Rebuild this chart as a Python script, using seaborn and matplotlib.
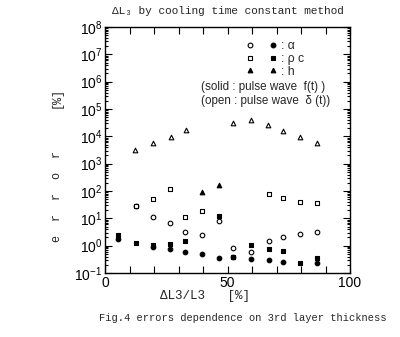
import numpy as np
import pandas as pd
import matplotlib
matplotlib.use("Agg")
import matplotlib.pyplot as plt
from matplotlib.legend_handler import HandlerTuple
from matplotlib.lines import Line2D
import seaborn as sns

# ---- data ----
alpha_open_x = [12.5, 19.5, 26.5, 32.7, 39.7, 46.5, 52.4, 59.6, 66.9, 72.5, 79.6, 86.7]
alpha_open_y = [28, 11.5, 6.6, 3.2, 2.5, 8.0, 0.8, 0.6, 1.5, 2.1, 2.7, 3.2]

alpha_solid_x = [5.4, 19.5, 26.5, 32.7, 39.7, 46.5, 52.4, 59.6, 66.9, 72.5, 86.7]
alpha_solid_y = [1.8, 0.9, 0.74, 0.6, 0.5, 0.35, 0.38, 0.32, 0.3, 0.26, 0.23]

rho_open_x = [12.5, 19.5, 26.5, 32.7, 39.7, 66.9, 72.5, 79.6, 86.7]
rho_open_y = [28, 50, 118, 11.5, 19, 78, 55, 41, 35]

rho_solid_x = [5.4, 12.5, 19.5, 26.5, 32.7, 46.5, 52.4, 59.6, 66.9, 72.5, 79.6, 86.7]
rho_solid_y = [2.5, 1.3, 1.1, 1.15, 1.5, 12, 0.38, 1.07, 0.76, 0.66, 0.24, 0.35]

h_open_x = [12.2, 19.7, 26.8, 32.9, 52.4, 59.6, 66.7, 72.5, 79.6, 86.7]
h_open_y = [3.2e3, 5.9e3, 9.8e3, 1.7e4, 3.0e4, 3.8e4, 2.5e4, 1.6e4, 9.8e3, 5.9e3]

h_solid_x = [39.7, 46.5]
h_solid_y = [90, 165]

x_ticks = [0, 10, 20, 30, 40, 50, 60, 70, 80, 90, 100]
x_ticklabels = ["0", "", "", "", "", "50", "", "", "", "", "100"]

title_text = "ΔL₃ by cooling time constant method"
xlabel_text = "ΔL3/L3   [%]"
caption_text = "Fig.4 errors dependence on 3rd layer thickness"

sns.set_style("ticks")
plt.rcParams['font.family'] = ['Liberation Sans', 'DejaVu Sans']
plt.rcParams['mathtext.default'] = 'regular'

fig = plt.figure(figsize=(4.0, 3.37), dpi=100)
ax = fig.add_axes([105/400, 1-273/337, 245/400, 246/337])

series = [
    (alpha_open_x, alpha_open_y, 'o', 'white'),
    (alpha_solid_x, alpha_solid_y, 'o', 'black'),
    (rho_open_x, rho_open_y, 's', 'white'),
    (rho_solid_x, rho_solid_y, 's', 'black'),
    (h_open_x, h_open_y, '^', 'white'),
    (h_solid_x, h_solid_y, '^', 'black'),
]
for xs, ys, m, fc in series:
    df = pd.DataFrame({'x': xs, 'y': ys})
    sns.scatterplot(data=df, x='x', y='y', marker=m, s=11, color=fc,
                    edgecolor='black', linewidth=0.8, ax=ax, zorder=3)

ax.set_yscale('log')
ax.set_xlim(0, 100)
ax.set_ylim(1e-1, 1e8)
ax.set_xticks(x_ticks)
ax.set_xticklabels(x_ticklabels)
ax.set_xlabel("")
ax.set_ylabel("")
ax.tick_params(axis='both', which='both', direction='in', top=True, right=True,
               labelsize=10, colors='black', width=0.8)
ax.tick_params(axis='both', which='major', length=5, pad=2)
ax.tick_params(axis='y', which='minor', length=2.5)
ax.yaxis.set_major_locator(matplotlib.ticker.LogLocator(base=10, numticks=20))
ax.yaxis.set_minor_locator(matplotlib.ticker.LogLocator(base=10, subs=np.arange(2, 10), numticks=20))
for sp in ax.spines.values():
    sp.set_linewidth(1.0)
    sp.set_color('black')

# legend with paired (open, solid) markers
def mk(m, fc):
    return Line2D([], [], marker=m, linestyle='none', markersize=3.4,
                  markerfacecolor=fc, markeredgecolor='black', markeredgewidth=0.8)
handles = [(mk('o', 'white'), mk('o', 'black')),
           (mk('s', 'white'), mk('s', 'black')),
           (mk('^', 'black'), mk('^', 'black'))]
labels = [': α', ': ρ c', ': h']
leg = ax.legend(handles=handles, labels=labels,
                handler_map={tuple: HandlerTuple(ndivide=None, pad=1.2)},
                loc='upper left', bbox_to_anchor=(0.55, 0.97), frameon=False,
                fontsize=8.8, handlelength=2.6, handletextpad=0.3, labelspacing=0.05,
                borderpad=0.0)

ax.text(0.392, 0.756, "(solid : pulse wave  f(t) )", transform=ax.transAxes,
        fontsize=8.4, va='center', ha='left')
ax.text(0.392, 0.700, "(open : pulse wave  δ (t))", transform=ax.transAxes,
        fontsize=8.4, va='center', ha='left')

mono = ['Liberation Mono', 'DejaVu Sans Mono']
fig.text(228/400, 1-11/337, title_text, family=mono, fontsize=8.0, ha='center', va='center')
fig.text(205/400, 1-296/337, xlabel_text, family=mono, fontsize=9, ha='center', va='center')
fig.text(243/400, 1-318/337, caption_text, family=mono, fontsize=7.5, ha='center', va='center')
fig.text(57/400, 1-196/337, "e  r  r  o  r", family=mono, fontsize=8.5, rotation=90,
         ha='center', va='center')
fig.text(57/400, 1-97/337, "[%]", family=mono, fontsize=8.5, rotation=90,
         ha='center', va='center')

fig.savefig("out.png", dpi=100)
